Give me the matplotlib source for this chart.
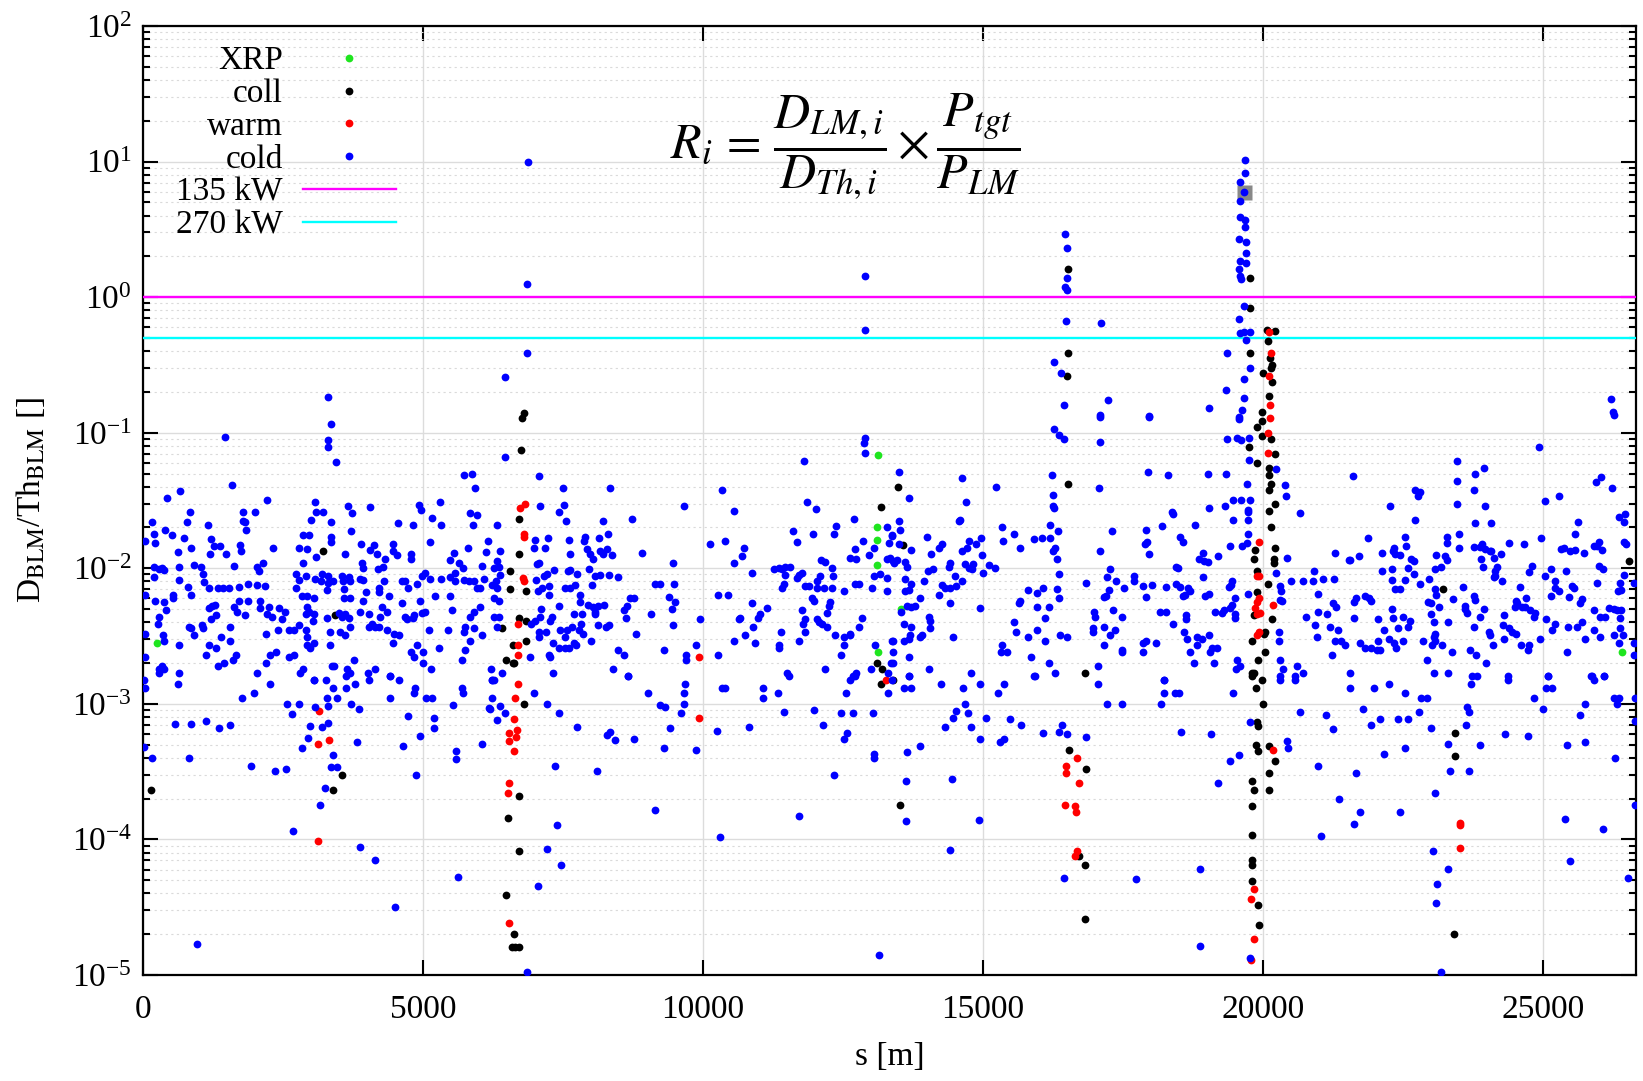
import matplotlib
matplotlib.use('Agg')
import matplotlib.pyplot as plt
from matplotlib.ticker import FixedLocator, NullFormatter, NullLocator, LogFormatterSciNotation
import numpy as np

plt.rcParams['font.family'] = ['Liberation Serif', 'DejaVu Serif']
plt.rcParams['mathtext.fontset'] = 'stix'

# ---------------- data (s [m], D_BLM/Th_BLM) ----------------
xrp = [(250, 0.0028), (13118, 0.068), (13106, 0.0201), (13106, 0.0162), (13106, 0.0106),
       (13124, 0.0024), (13535, 0.005), (26410, 0.0024)]

coll = [(6797, 0.139), (6767, 0.128), (6755, 0.075), (6719, 0.0232), (6719, 0.0128), (6838, 0.0068),
        (6719, 0.0043), (6838, 0.0041), (6838, 0.0029), (6630, 0.002),
        (3208, 0.0134), (3434, 0.0045), (6559, 0.0095), (6559, 0.0070), (6410, 0.0036), (6606, 0.0027),
        (6487, 0.0021), (6606, 0.0020),
        (13184, 0.0285), (13106, 0.002), (13195, 0.0018),
        (16517, 1.6), (19762, 1.39), (19774, 0.83), (16517, 0.39), (19774, 0.386), (16500, 0.264),
        (20071, 0.57), (19999, 0.274), (19982, 0.143),
        (20208, 0.566), (20089, 0.478), (20130, 0.354), (20160, 0.316), (20148, 0.299), (20160, 0.236),
        (20100, 0.185),
        (19744, 0.079), (19893, 0.111), (19982, 0.121), (19982, 0.095), (19893, 0.060),
        (13476, 0.040), (16512, 0.042), (13571, 0.0149), (16827, 0.0017),
        (19862, 0.0137), (19845, 0.0117), (19892, 0.0095), (19892, 0.0067), (19833, 0.0045),
        (20011, 0.0033), (19803, 0.0029), (19910, 0.0021), (19803, 0.0017), (19845, 0.0017),
        (20148, 0.090), (20208, 0.070), (20100, 0.055), (20112, 0.049), (20148, 0.042), (20112, 0.038),
        (20208, 0.030), (20100, 0.0265), (20148, 0.0203), (20208, 0.0141), (20190, 0.0117),
        (20190, 0.011), (20089, 0.0076), (20160, 0.0042), (20041, 0.0034), (20041, 0.0024),
        (23213, 0.007), (26529, 0.0114),
        (3553, 0.0003), (3392, 0.00023), (142, 0.00023), (6511, 0.000144), (6708, 0.00021),
        (6708, 8.2e-5), (6487, 3.9e-5), (6618, 2.0e-5), (6590, 1.6e-5), (6650, 1.62e-5), (6708, 1.6e-5),
        (6797, 0.001), (13184, 0.0014), (13384, 0.0015),
        (13523, 0.00018), (16529, 0.00046), (16839, 0.00033), (16720, 7.5e-5), (16827, 6.5e-5),
        (16827, 2.6e-5),
        (19803, 0.0016), (19982, 0.0015), (19880, 0.0013), (20000, 0.001), (19892, 0.00073),
        (19910, 0.00069), (19880, 0.0005), (19910, 0.00045), (20101, 0.00049), (19803, 0.00027),
        (19845, 0.00023), (20101, 0.00031), (20101, 0.00023), (19803, 0.000175), (19803, 0.000108),
        (19803, 7.0e-5), (19803, 6.5e-5), (19803, 4.9e-5), (19910, 3.3e-5), (19922, 2.35e-5),
        (20208, 0.00038), (23434, 0.00061), (23434, 0.00041), (23404, 2.0e-5)]

warm = [(20100, 0.55), (20148, 0.386), (20112, 0.26), (20130, 0.16),
        (6737, 0.028), (6815, 0.030), (6797, 0.018), (6797, 0.017), (6779, 0.0085), (6797, 0.008),
        (6696, 0.0039), (6696, 0.0027), (6696, 0.0023),
        (9934, 0.0022),
        (19934, 0.0155), (19892, 0.0087), (19922, 0.0088), (19922, 0.006), (19892, 0.0056),
        (19862, 0.0051), (19892, 0.0046), (19940, 0.0047), (19892, 0.0032), (19922, 0.0034),
        (20130, 0.128), (20089, 0.099), (20089, 0.071), (20172, 0.0054),
        (3136, 0.00088), (3119, 0.00051), (3315, 0.00054), (3119, 9.8e-5),
        (6690, 0.0014), (6636, 0.0011), (6630, 0.00077), (6529, 0.00061), (6654, 0.00057),
        (6678, 0.00064), (6529, 0.00053), (6618, 0.00045), (6529, 0.00026), (6511, 0.00022),
        (6529, 2.4e-5),
        (9922, 0.00078), (13273, 0.0015),
        (16678, 0.0004), (16482, 0.00035), (16476, 0.00031), (16708, 0.00026), (16470, 0.00018),
        (16636, 0.000177), (16654, 0.000158), (16678, 8.2e-5), (16636, 7.6e-5),
        (19833, 4.3e-5), (19791, 3.65e-5), (19833, 1.85e-5), (19791, 1.28e-5),
        (20172, 0.00046), (23523, 0.000132), (23523, 0.000128), (23523, 8.6e-5)]

cold = [
    # upper region
    (3303, 0.182), (6458, 0.256), (6868, 9.9), (6862, 1.26), (12898, 1.44), (12886, 0.575), (6862, 0.39),
    (16464, 2.9), (16500, 2.29), (16500, 1.39), (16460, 1.19), (16500, 1.12), (16490, 0.67),
    (17101, 0.65), (16262, 0.334), (16392, 0.277), (16452, 0.161), (17226, 0.175), (17095, 0.135),
    (17958, 0.133), (19029, 0.151),
    (19684, 10.2), (19672, 8.3), (19583, 7.1), (19666, 6.0), (19595, 5.1), (19595, 3.9), (19672, 3.7),
    (19672, 3.3), (19571, 2.67), (19690, 2.55), (19690, 2.1), (19583, 1.85), (19690, 1.8), (19571, 1.6),
    (19595, 1.42), (19600, 1.36), (19654, 0.86), (19565, 0.69), (19595, 0.54), (19666, 0.55),
    (19762, 0.55), (19702, 0.48), (19357, 0.386), (19774, 0.30), (19654, 0.248), (19345, 0.207),
    (19654, 0.18), (19630, 0.147), (19565, 0.13), (26219, 0.177), (26249, 0.142),
    # 0 - 6700 m
    (3357, 0.116), (3297, 0.089), (3297, 0.079), (3452, 0.061), (1470, 0.093), (1589, 0.041), (654, 0.037),
    (428, 0.033), (2214, 0.032), (845, 0.026), (785, 0.022), (160, 0.022), (190, 0.018), (398, 0.019),
    (517, 0.0175), (220, 0.0153), (41, 0.016), (726, 0.0166), (1160, 0.021), (1785, 0.026), (1827, 0.022),
    (1790, 0.0222), (1845, 0.0193), (2005, 0.026), (1214, 0.0164), (1380, 0.0146), (1261, 0.0145),
    (857, 0.0141), (625, 0.0131), (1738, 0.0149), (1750, 0.0134), (1190, 0.0127), (1488, 0.0128),
    (2321, 0.014), (2142, 0.011), (190, 0.0103), (339, 0.010), (280, 0.0098), (381, 0.0097), (648, 0.0102),
    (916, 0.0106), (1035, 0.0103), (1619, 0.0104), (2035, 0.0103), (2071, 0.0095), (190, 0.0086),
    (41, 0.0064), (648, 0.0082), (1065, 0.0091), (1083, 0.0079), (803, 0.0073), (857, 0.0064),
    (1184, 0.0071), (1333, 0.0071), (1428, 0.0071), (1529, 0.0072), (1720, 0.0073), (1875, 0.0077),
    (2035, 0.0075), (2184, 0.0074), (535, 0.0064), (535, 0.006), (220, 0.0057), (369, 0.0056),
    (404, 0.0049), (280, 0.0044), (262, 0.0039), (41, 0.0033), (357, 0.0032), (381, 0.0029),
    (648, 0.0027), (916, 0.0032), (815, 0.0037), (857, 0.0036), (1053, 0.0038), (1071, 0.0036),
    (1172, 0.0051), (1232, 0.0053), (1291, 0.0054), (1214, 0.0042), (1309, 0.0045), (1172, 0.0027),
    (1309, 0.0026), (1392, 0.0031), (1547, 0.0029), (1547, 0.0037), (1678, 0.0048), (1720, 0.0057),
    (1619, 0.0052), (1875, 0.0057), (1815, 0.0045), (2083, 0.0057), (2095, 0.0051), (2244, 0.0052),
    (2214, 0.0046), (2303, 0.0044), (2422, 0.0051), (2541, 0.0048), (2482, 0.0042), (2404, 0.0035),
    (2196, 0.0033), (2601, 0.0035), (2690, 0.0035), (2779, 0.0038), (2910, 0.0035), (2928, 0.0031),
    (2928, 0.0027), (2987, 0.0026), (3047, 0.0028), (2916, 0.0046), (2928, 0.0052), (2839, 0.0062),
    (2928, 0.0062), (3059, 0.006), (2958, 0.0048), (3047, 0.0046), (3035, 0.0041), (2738, 0.0091),
    (2779, 0.0082), (2738, 0.0071), (2910, 0.0088), (2851, 0.011), (2791, 0.0142), (2851, 0.0175),
    (2958, 0.0176), (2928, 0.0139), (3089, 0.0122), (2999, 0.0228), (3077, 0.0306), (3089, 0.0262),
    (3208, 0.0262), (3077, 0.0083), (3196, 0.009), (3303, 0.0088), (3178, 0.008), (3303, 0.0078),
    (3392, 0.008), (3285, 0.0069), (3357, 0.022), (3357, 0.0171), (3357, 0.0157), (3285, 0.0043),
    (3494, 0.0047), (3553, 0.0044), (3613, 0.0046), (3672, 0.0043), (3345, 0.0034), (3345, 0.0027),
    (3511, 0.0034), (3613, 0.0032), (3702, 0.0037), (3553, 0.0088), (3571, 0.0081), (3595, 0.007),
    (3672, 0.0086), (3702, 0.0081), (3595, 0.006), (3690, 0.006), (3601, 0.0128), (3714, 0.0187),
    (3732, 0.0254), (3654, 0.0289), (3892, 0.0152), (3910, 0.011), (3928, 0.010), (3880, 0.0084),
    (3928, 0.0082), (3987, 0.0067), (3928, 0.0057), (3880, 0.0048), (4029, 0.0046), (4029, 0.0037),
    (4089, 0.0039), (4118, 0.0149), (4059, 0.0283), (4047, 0.0137), (4178, 0.0127), (4196, 0.0098),
    (4214, 0.0071), (4208, 0.0067), (4297, 0.008), (4267, 0.0052), (4237, 0.0044), (4208, 0.0037),
    (4148, 0.0037), (4357, 0.0048), (4357, 0.0035), (4386, 0.0062), (4463, 0.0152), (4463, 0.0133),
    (4535, 0.0126), (4327, 0.0118), (4279, 0.0102), (4475, 0.0033), (4565, 0.0032), (4463, 0.0028),
    (4547, 0.0214), (4630, 0.008), (4684, 0.008), (4624, 0.0055), (4684, 0.0044), (4714, 0.0042),
    (4821, 0.0043), (4833, 0.0045), (4726, 0.0071), (4785, 0.0128), (4785, 0.0118), (4821, 0.0209),
    (4922, 0.0293), (4964, 0.0268), (4892, 0.0077), (4952, 0.0057), (4892, 0.0027), (4785, 0.0024),
    (4833, 0.0022), (4999, 0.0024), (4999, 0.002), (4981, 0.0047), (5041, 0.0048), (4981, 0.0088),
    (5041, 0.0093), (5130, 0.0084), (5130, 0.0155), (5160, 0.0236), (5297, 0.031), (5327, 0.021),
    (5321, 0.0083), (5219, 0.0062), (5101, 0.0035), (5148, 0.0018), (5279, 0.0026), (5446, 0.0035),
    (5487, 0.0062), (5517, 0.0049), (5487, 0.0086), (5576, 0.0093), (5636, 0.011), (5714, 0.0101),
    (5547, 0.0129), (5476, 0.0115), (5797, 0.014), (5725, 0.049), (5874, 0.05), (5934, 0.039),
    (5833, 0.0254), (5963, 0.0247), (5886, 0.021), (6154, 0.016), (6321, 0.021), (6458, 0.066),
    (6124, 0.0131), (6053, 0.0104), (6261, 0.010), (6321, 0.0113), (6351, 0.0103), (6380, 0.0133),
    (5576, 0.008), (5737, 0.0082), (5815, 0.008), (5904, 0.008), (6083, 0.0083), (5963, 0.0071),
    (6023, 0.0072), (6232, 0.0075), (6321, 0.0071), (6380, 0.0089), (6309, 0.008), (6261, 0.006),
    (6351, 0.0057), (5904, 0.0048), (5844, 0.0044), (6011, 0.0052), (5755, 0.0037), (5725, 0.0034),
    (5904, 0.0036), (5844, 0.0029), (6053, 0.0032), (5743, 0.0025), (5696, 0.0021), (6261, 0.0044),
    (6351, 0.0044), (6321, 0.0037), (6220, 0.0018), (6410, 0.0017),
    (41, 0.0022), (280, 0.0018), (340, 0.0019), (381, 0.0018), (280, 0.0017), (648, 0.0017),
    (1124, 0.0023), (1339, 0.0019), (1440, 0.002), (1607, 0.0021), (1660, 0.0023), (2035, 0.0017),
    (2196, 0.002), (2273, 0.0023), (2374, 0.0024), (2613, 0.0022), (2690, 0.0023), (2797, 0.0017),
    (2860, 0.0018), (3047, 0.0015), (3375, 0.0019), (3410, 0.0019), (3642, 0.0018), (3690, 0.0017),
    (3773, 0.0021), (4017, 0.0017), (4148, 0.0018), (4404, 0.0016), (6232, 0.0015),
    # 6650 - 13400 m
    (7077, 0.048), (7493, 0.039), (8344, 0.039), (10338, 0.038), (7094, 0.029), (7511, 0.0293),
    (7434, 0.0262), (7553, 0.0222), (8207, 0.0222), (8731, 0.023), (9654, 0.029), (10559, 0.0265),
    (6993, 0.0163), (6990, 0.0142), (7225, 0.0168), (7172, 0.0141), (7612, 0.0161), (7868, 0.0158),
    (7886, 0.017), (8148, 0.0168), (8297, 0.018), (7928, 0.0139), (7987, 0.0128), (8029, 0.0117),
    (8166, 0.0133), (8207, 0.0128), (8285, 0.0138), (8374, 0.0125), (7630, 0.0128), (8910, 0.013),
    (9457, 0.011), (10130, 0.0151), (10398, 0.0158), (10731, 0.0142), (10695, 0.0124), (10547, 0.011),
    (7065, 0.011), (7035, 0.0108), (7333, 0.0097), (7213, 0.009), (7154, 0.0088), (7588, 0.0095),
    (7630, 0.0097), (7749, 0.0091), (7957, 0.0099), (8064, 0.0087), (8166, 0.0089), (8315, 0.0089),
    (8481, 0.0086), (8017, 0.0075), (7719, 0.0075), (7630, 0.0071), (7529, 0.0071), (7243, 0.0074),
    (7124, 0.0072), (7053, 0.0068), (7017, 0.0082), (7255, 0.0064), (9148, 0.0076), (9237, 0.0077),
    (9475, 0.0077), (9398, 0.0061), (9505, 0.0056), (9446, 0.005), (9457, 0.0038), (9951, 0.0042),
    (10261, 0.0064), (10440, 0.0063), (10874, 0.0093), (10874, 0.0055), (11142, 0.0051),
    (11023, 0.0046), (10980, 0.0043), (10892, 0.0037), (10666, 0.0043), (10648, 0.0042),
    (10755, 0.0032), (10547, 0.0029), (10922, 0.0028), (7809, 0.0064), (7809, 0.0056), (7946, 0.0054),
    (8029, 0.0052), (8124, 0.0053), (8225, 0.0054), (8077, 0.0046), (8064, 0.0048), (7838, 0.0046),
    (7690, 0.0046), (7827, 0.0039), (7850, 0.0033), (8124, 0.0038), (8267, 0.0037), (8326, 0.0038),
    (7422, 0.0053), (7303, 0.0044), (7273, 0.0041), (7112, 0.005), (7094, 0.0044), (7005, 0.0041),
    (6934, 0.0039), (7077, 0.0034), (7196, 0.0034), (7452, 0.0035), (7529, 0.0031), (7570, 0.0035),
    (7660, 0.0037), (7779, 0.0035), (7690, 0.0028), (7731, 0.0027), (7600, 0.0026), (7541, 0.0026),
    (7422, 0.0026), (7315, 0.0028), (7065, 0.0031), (8005, 0.0029), (8582, 0.0049), (8630, 0.0043),
    (8702, 0.006), (8761, 0.006), (8642, 0.0053), (8809, 0.0033), (9077, 0.0046), (7243, 0.0023),
    (7273, 0.0022), (6916, 0.0022), (7315, 0.0017), (8386, 0.0018), (8475, 0.0025), (8594, 0.0023),
    (8660, 0.0016), (9297, 0.0025), (9696, 0.0023), (9696, 0.0021), (9874, 0.0027), (10267, 0.0023),
    (11350, 0.0027), (11350, 0.0026), (11499, 0.0017), (11529, 0.0016), (11398, 0.0034),
    (11261, 0.0098), (11350, 0.0101), (11410, 0.0099), (11470, 0.0102), (11559, 0.0103),
    (11439, 0.0077), (11410, 0.0071), (11457, 0.0089), (11678, 0.0085), (11708, 0.0089),
    (11767, 0.0093), (11826, 0.0074), (11886, 0.0074), (11600, 0.0187), (11678, 0.0155),
    (11797, 0.062), (11856, 0.031), (12017, 0.0273), (11963, 0.018), (12332, 0.018), (12374, 0.0204),
    (12701, 0.023), (12856, 0.016), (12886, 0.092), (12868, 0.084), (12898, 0.071), (12630, 0.012),
    (12731, 0.0118), (12719, 0.0138), (12969, 0.0126), (13047, 0.014), (13285, 0.02), (13374, 0.0176),
    (13315, 0.0154), (13285, 0.0118), (13386, 0.0113), (13047, 0.0087), (13166, 0.0091),
    (13285, 0.0085), (13017, 0.0071), (13285, 0.0068), (12112, 0.0115), (12183, 0.0111),
    (12302, 0.010), (12314, 0.0088), (12094, 0.0088), (12035, 0.008), (12154, 0.0071), (12035, 0.0071),
    (12302, 0.0071), (12511, 0.0068), (12707, 0.0077), (12779, 0.0077), (11945, 0.006), (11975, 0.0057),
    (11767, 0.0049), (11826, 0.0042), (11779, 0.0039), (12035, 0.0042), (12065, 0.004), (12124, 0.0039),
    (12213, 0.0037), (12243, 0.0053), (12273, 0.0056), (12213, 0.0047), (11826, 0.0034),
    (11708, 0.0029), (12350, 0.0032), (12511, 0.0031), (12618, 0.0032), (12630, 0.0033),
    (12511, 0.0027), (12469, 0.0023), (12183, 0.0018), (12838, 0.0043), (12779, 0.0037),
    (13374, 0.0029), (13065, 0.0027), (13000, 0.0018), (12671, 0.0016), (12731, 0.0017),
    (13303, 0.0017), (13362, 0.002),
    # 13350 - 20100 m
    (17095, 0.131), (17958, 0.131), (19565, 0.127), (16273, 0.106), (16363, 0.096), (16452, 0.09),
    (17095, 0.085), (19357, 0.09), (19535, 0.092), (19613, 0.088), (19744, 0.092), (19744, 0.063),
    (13506, 0.051), (13684, 0.033), (14625, 0.046), (14702, 0.031), (15232, 0.04), (16232, 0.049),
    (17077, 0.039), (17940, 0.051), (18297, 0.049), (19012, 0.05), (19339, 0.05), (16250, 0.0345),
    (16250, 0.029), (16268, 0.028), (19714, 0.042), (19607, 0.032), (19762, 0.032), (19726, 0.027),
    (19726, 0.026), (18375, 0.026), (18393, 0.025), (19029, 0.028), (19315, 0.029), (19458, 0.032),
    (19464, 0.0228), (19726, 0.0228), (19726, 0.018), (19625, 0.0147), (19714, 0.0153),
    (19404, 0.0146), (19190, 0.0124), (18928, 0.013), (18851, 0.0118), (18940, 0.0113),
    (19011, 0.0112), (18791, 0.021), (18511, 0.017), (18571, 0.0155), (18196, 0.0206), (17916, 0.019),
    (17928, 0.0155), (17898, 0.0151), (17958, 0.0128), (17303, 0.0187), (17083, 0.0134),
    (16339, 0.0187), (16190, 0.021), (16202, 0.0166), (16291, 0.0142), (16244, 0.0133),
    (16321, 0.0118), (16363, 0.009), (16321, 0.007), (16363, 0.006), (16053, 0.0168), (15916, 0.0164),
    (15666, 0.0141), (15547, 0.018), (15357, 0.0158), (15339, 0.0201), (15220, 0.01), (15113, 0.0106),
    (14982, 0.0126), (14964, 0.0168), (14875, 0.015), (14999, 0.0093), (14821, 0.0107),
    (14803, 0.0098), (14744, 0.0101), (14744, 0.016), (14714, 0.0142), (14625, 0.0134),
    (14565, 0.0222), (14595, 0.0227), (14684, 0.0107), (14625, 0.008), (14505, 0.0088),
    (14416, 0.011), (14386, 0.0103), (14268, 0.015), (14208, 0.0142), (14071, 0.0128), (14101, 0.0098),
    (14011, 0.0095), (13940, 0.008), (14000, 0.017), (13714, 0.0136), (13506, 0.0222), (13523, 0.0193),
    (13494, 0.0152), (13375, 0.0172), (13345, 0.012), (13404, 0.011), (13464, 0.0115), (13613, 0.0112),
    (13643, 0.0103), (13613, 0.0084), (13714, 0.0077), (13672, 0.0069), (13613, 0.0068),
    (13869, 0.006), (13791, 0.0053), (13714, 0.0052), (13643, 0.0053), (13535, 0.0048),
    (14208, 0.0064), (14268, 0.0075), (14327, 0.0072), (14416, 0.0071), (14517, 0.0074),
    (14416, 0.0055), (14030, 0.0044), (14047, 0.0041), (14059, 0.0036), (13595, 0.0039),
    (13714, 0.0037), (13702, 0.0032), (13672, 0.003), (13583, 0.0029), (13910, 0.0032),
    (13869, 0.0031), (13393, 0.0029), (13393, 0.0024), (13393, 0.002), (13672, 0.0022),
    (13672, 0.0016), (14030, 0.0018), (14464, 0.0031), (14785, 0.0017), (14940, 0.0051),
    (15339, 0.0027), (15428, 0.0024), (15321, 0.0024), (15547, 0.004), (15595, 0.0034),
    (15654, 0.0057), (15636, 0.0055), (15797, 0.0069), (15964, 0.0066), (16071, 0.0072),
    (15964, 0.0052), (15964, 0.0035), (16101, 0.0043), (16184, 0.0052), (15797, 0.0031),
    (16113, 0.0029), (15857, 0.0022), (16184, 0.002), (16279, 0.0017), (15922, 0.0016),
    (16368, 0.0032), (16500, 0.0031), (17053, 0.0019), (16845, 0.0078), (16976, 0.0048),
    (17005, 0.0044), (16964, 0.0036), (16964, 0.0034), (17154, 0.0037), (17321, 0.0049),
    (17482, 0.0044), (17261, 0.0032), (17363, 0.0035), (17154, 0.0027), (17482, 0.0025),
    (17482, 0.0024), (17857, 0.0028), (17916, 0.0029), (17857, 0.0024), (18089, 0.0028),
    (18226, 0.0015), (17214, 0.0086), (17261, 0.0098), (17380, 0.008), (17255, 0.0069),
    (17154, 0.0061), (17202, 0.0062), (17511, 0.0072), (17690, 0.0087), (17702, 0.008),
    (17857, 0.0074), (17916, 0.0061), (18017, 0.0075), (18166, 0.0048), (18273, 0.0048),
    (18273, 0.0073), (18392, 0.0039), (18452, 0.0076), (18476, 0.010), (18452, 0.0103),
    (18511, 0.0073), (18595, 0.0034), (18630, 0.0045), (18630, 0.0042), (18642, 0.003),
    (18702, 0.0068), (18660, 0.0071), (18571, 0.0062), (18613, 0.0063), (18702, 0.0024),
    (18773, 0.002), (18821, 0.0031), (18910, 0.003), (19029, 0.0032), (18821, 0.0027),
    (19089, 0.0026), (19059, 0.0024), (19178, 0.0026), (19131, 0.002), (19148, 0.0048),
    (19267, 0.0047), (19309, 0.0049), (19416, 0.0051), (19446, 0.0054), (19505, 0.0046),
    (19505, 0.0043), (19386, 0.0073), (19434, 0.0075), (19446, 0.008), (19505, 0.006), (19726, 0.0065),
    (18970, 0.0062), (19029, 0.0065), (18922, 0.0086), (19535, 0.0021), (19583, 0.0019), (19523, 0.0018),
    # 20040 - 26660 m
    (26261, 0.135), (24934, 0.078), (23463, 0.062), (23791, 0.05), (23952, 0.055), (21600, 0.048),
    (20232, 0.054), (20398, 0.041), (20410, 0.034), (20666, 0.0254), (23463, 0.044), (23761, 0.038),
    (22719, 0.0376), (22809, 0.0363), (22767, 0.034), (22273, 0.0288), (23463, 0.0296), (23969, 0.029),
    (22707, 0.0228), (23779, 0.0214), (24077, 0.0214), (25041, 0.0313), (25291, 0.0342),
    (25952, 0.0436), (26041, 0.047), (26231, 0.0389), (26350, 0.024), (26469, 0.025), (26439, 0.022),
    (25624, 0.022), (25576, 0.018), (25993, 0.0155), (25904, 0.0145), (25963, 0.0145), (26053, 0.0136),
    (26439, 0.0157), (26481, 0.015), (25993, 0.0104), (26065, 0.0099), (25963, 0.0078), (26380, 0.0078),
    (26439, 0.0089), (26338, 0.0068), (26398, 0.0069), (26618, 0.0078), (24969, 0.0166),
    (25326, 0.0138), (25368, 0.0141), (25488, 0.0134), (25737, 0.013), (25576, 0.0136), (25410, 0.0095),
    (25148, 0.0099), (25041, 0.0088), (25207, 0.008), (25219, 0.0071), (25279, 0.0068), (25517, 0.0074),
    (25547, 0.0071), (25148, 0.0062), (25457, 0.0061), (25695, 0.0059), (25665, 0.0055),
    (25904, 0.0049), (26171, 0.0051), (26261, 0.005), (26320, 0.0049), (26398, 0.0049),
    (26023, 0.0044), (26112, 0.0044), (26380, 0.0043), (26618, 0.0028), (26618, 0.0023),
    (26350, 0.0028), (26261, 0.0032), (26422, 0.0032), (26380, 0.0036), (25904, 0.0035),
    (26023, 0.0031), (25219, 0.0039), (25160, 0.0035), (25445, 0.0037), (25606, 0.0037),
    (25695, 0.004), (25743, 0.003), (25427, 0.0024), (24951, 0.003), (25058, 0.0042), (24803, 0.0104),
    (24744, 0.0094), (24654, 0.015), (24398, 0.0154), (24255, 0.0127), (24178, 0.0102),
    (24148, 0.0095), (24136, 0.0088), (24118, 0.0086), (24267, 0.008), (24130, 0.012), (24077, 0.0133),
    (23910, 0.0152), (23880, 0.0143), (23969, 0.0139), (24059, 0.0133), (23898, 0.0118),
    (23922, 0.0103), (23761, 0.0143), (23493, 0.018), (23493, 0.0142), (23285, 0.017), (23285, 0.0153),
    (23255, 0.0123), (23285, 0.0115), (23088, 0.0125), (23184, 0.0103), (23077, 0.0098),
    (22957, 0.0083), (23065, 0.007), (23088, 0.0063), (23570, 0.0073), (23386, 0.0059),
    (22945, 0.0056), (23005, 0.0055), (23136, 0.0052), (23000, 0.0046), (23047, 0.004), (23065, 0.0033),
    (23047, 0.0031), (23065, 0.0029), (23018, 0.0027), (23196, 0.0027), (23297, 0.004), (23374, 0.0024),
    (22850, 0.0029), (22928, 0.0021), (23047, 0.0017), (23297, 0.0017), (23612, 0.0053),
    (23642, 0.0047), (23612, 0.005), (23761, 0.0062), (23791, 0.0058), (23880, 0.0044), (23939, 0.005),
    (23761, 0.0037), (24029, 0.0034), (24059, 0.0032), (24100, 0.0027), (23701, 0.0025),
    (23803, 0.0023), (23981, 0.002), (23731, 0.0016), (23820, 0.0016), (24279, 0.0038),
    (24297, 0.0045), (24386, 0.0036), (24446, 0.0034), (24517, 0.0033), (24309, 0.003), (24523, 0.0057),
    (24535, 0.0055), (24624, 0.0052), (24505, 0.0052), (24696, 0.006), (24684, 0.0052), (24773, 0.0049),
    (24833, 0.0044), (24862, 0.0047), (24582, 0.0073), (24606, 0.0027), (24743, 0.0027),
    (24731, 0.0025), (24368, 0.0016), (25088, 0.0016), (25862, 0.0016), (26094, 0.0016),
    (22303, 0.0098), (22321, 0.0133), (22350, 0.0128), (22452, 0.0125), (22332, 0.014), (22559, 0.0145),
    (22541, 0.017), (22642, 0.0118), (22690, 0.0113), (22589, 0.0100), (22689, 0.009), (22797, 0.0077),
    (22529, 0.0082), (22303, 0.0082), (22362, 0.007), (22440, 0.007), (22124, 0.013), (22124, 0.0095),
    (21874, 0.0168), (21707, 0.0124), (21559, 0.0115), (21529, 0.0116), (21291, 0.013),
    (20904, 0.0096), (21064, 0.0083), (21261, 0.0083), (20886, 0.008), (20708, 0.008), (20505, 0.0081),
    (20422, 0.012), (20232, 0.0093), (20309, 0.0074), (20327, 0.0068), (20309, 0.0058),
    (20339, 0.0057), (20975, 0.0065), (21249, 0.0055), (21303, 0.0052), (20981, 0.0048),
    (21142, 0.0046), (20767, 0.0044), (20922, 0.0038), (21190, 0.0037), (20963, 0.0031),
    (21338, 0.0035), (21291, 0.0029), (21398, 0.0029), (21458, 0.0027), (21231, 0.0023),
    (21618, 0.0043), (21618, 0.0056), (21660, 0.006), (21827, 0.0062), (21898, 0.006), (21934, 0.0057),
    (22047, 0.0042), (22154, 0.0035), (22243, 0.003), (22333, 0.0028), (22374, 0.0026), (22047, 0.0029),
    (22303, 0.005), (22315, 0.0043), (22410, 0.0036), (22499, 0.0044), (22583, 0.0037), (22630, 0.0041),
    (22493, 0.0029), (21725, 0.0028), (21827, 0.0026), (21934, 0.0026), (22035, 0.0025),
    (22095, 0.0025), (20279, 0.0034), (20291, 0.0029), (20309, 0.0021), (20351, 0.0018),
    (20309, 0.0016), (20606, 0.0019), (20577, 0.0016), (20708, 0.0017), (21559, 0.0017),
    # lower band 0 - 6500 m
    (24, 0.0015), (40, 0.0013), (619, 0.0014), (1767, 0.0011), (1988, 0.0012), (2261, 0.0014),
    (2571, 0.001), (2779, 0.001), (2660, 0.00084), (3047, 0.0015), (3273, 0.0015), (3630, 0.0016),
    (3630, 0.0013), (3791, 0.0014), (3392, 0.0013), (3285, 0.0011), (3297, 0.00096), (3464, 0.0011),
    (3714, 0.001), (3851, 0.00092), (3065, 0.00095), (2976, 0.00069), (3297, 0.00072), (3196, 0.00067),
    (2946, 0.00056), (2839, 0.00047), (3386, 0.00042), (3357, 0.00034), (3464, 0.00034),
    (3255, 0.00024), (3154, 0.00018), (2672, 0.000116), (3868, 8.8e-5), (4136, 7.1e-5), (4505, 3.2e-5),
    (964, 1.7e-5), (5619, 5.3e-5), (577, 0.00071), (857, 0.00071), (1131, 0.00075), (1363, 0.00066),
    (1547, 0.0007), (12, 0.00048), (160, 0.0004), (815, 0.0004), (1928, 0.00035), (2351, 0.00032),
    (2547, 0.00033), (3821, 0.00052), (4029, 0.0015), (4404, 0.0016), (4565, 0.0015), (4404, 0.0011),
    (4833, 0.0012), (4862, 0.0013), (5052, 0.0011), (5160, 0.0011), (4726, 0.00081), (5202, 0.00078),
    (5202, 0.00066), (4940, 0.00058), (4636, 0.00049), (4880, 0.0003), (5696, 0.0013), (5714, 0.0012),
    (5529, 0.00098), (5595, 0.00045), (5595, 0.00039), (6053, 0.00051), (6232, 0.0015), (6262, 0.0015),
    (6232, 0.0011), (6172, 0.00094), (6190, 0.00092), (6380, 0.00097), (6469, 0.00086), (6321, 0.00076),
    # lower band 6800 - 13400 m
    (6975, 0.0012), (7213, 0.001), (7422, 0.00085), (7749, 0.00067), (8285, 0.00059), (8333, 0.00062),
    (8434, 0.00054), (8761, 0.00055), (7362, 0.00035), (8106, 0.00032), (8660, 0.0016), (9017, 0.0012),
    (9225, 0.00098), (9327, 0.00095), (9654, 0.0012), (9654, 0.001), (9684, 0.0014), (9606, 0.00085),
    (9416, 0.00066), (9297, 0.00047), (9874, 0.00046), (10249, 0.00063), (10815, 0.00068),
    (10338, 0.0013), (10386, 0.0013), (11070, 0.0013), (11070, 0.0011), (11338, 0.0012),
    (11451, 0.00087), (11987, 0.0009), (12142, 0.0007), (12469, 0.00085), (12677, 0.00085),
    (12570, 0.00061), (12517, 0.00055), (12630, 0.0015), (12719, 0.0016), (12558, 0.0012),
    (13035, 0.00085), (13053, 0.00043), (13059, 0.0004), (12344, 0.0003), (13303, 0.0012),
    (9136, 0.000165), (7392, 0.000128), (11719, 0.000148), (10308, 0.000105), (7213, 8.5e-5),
    (7469, 6.5e-5), (7047, 4.5e-5), (13136, 1.41e-5), (6856, 1.05e-5),
    # lower band 13350 - 20000 m
    (13375, 0.0015), (13583, 0.0013), (13714, 0.0013), (13684, 0.0016), (14250, 0.0014), (14643, 0.0013),
    (14952, 0.0014), (15268, 0.0012), (15381, 0.0014), (15916, 0.0016), (17047, 0.0014), (17214, 0.001),
    (17482, 0.001), (18226, 0.0015), (18226, 0.0012), (18434, 0.0012), (18494, 0.0012), (18178, 0.001),
    (19458, 0.0012), (14684, 0.001), (14517, 0.00089), (14464, 0.00078), (14732, 0.00086),
    (15053, 0.00078), (15488, 0.00077), (15678, 0.0007), (14327, 0.00068), (14785, 0.00068),
    (14952, 0.00055), (15297, 0.00052), (15381, 0.00055), (16071, 0.00061), (16410, 0.0007),
    (16351, 0.00062), (16500, 0.0006), (16839, 0.00057), (18541, 0.00062), (19077, 0.0006),
    (19773, 0.00074), (13881, 0.00049), (13643, 0.00044), (13631, 0.00027), (14446, 0.00028),
    (13631, 0.000136), (14922, 0.00014), (14416, 8.4e-5), (19404, 0.00038), (19565, 0.00042),
    (19190, 0.00026), (18869, 6.1e-5), (17738, 5.1e-5), (16452, 5.2e-5), (18869, 1.65e-5),
    (19773, 1.33e-5),
    # lower band 20000 - 26660 m
    (20309, 0.0015), (20577, 0.0015), (21559, 0.0013), (21987, 0.0013), (22255, 0.0014), (22529, 0.0012),
    (22826, 0.0011), (22928, 0.0011), (23713, 0.0014), (24368, 0.0015), (25088, 0.0016), (25058, 0.0013),
    (25160, 0.0013), (25874, 0.0016), (25915, 0.0015), (26094, 0.0016), (26273, 0.0011), (26362, 0.0011),
    (26320, 0.001), (26636, 0.0011), (24832, 0.0011), (24999, 0.00091), (23642, 0.00095),
    (23684, 0.00087), (23630, 0.0007), (22779, 0.00087), (22999, 0.00066), (20654, 0.00087),
    (21130, 0.00083), (21243, 0.00065), (21785, 0.00092), (21934, 0.0007), (22094, 0.00077),
    (22410, 0.00077), (22583, 0.00077), (24326, 0.0006), (24731, 0.00058), (25665, 0.00083),
    (25755, 0.001), (25427, 0.0005), (25755, 0.00052), (26291, 0.0004), (26636, 0.00075),
    (23297, 0.00051), (23880, 0.0005), (23344, 0.00032), (23684, 0.00032), (20428, 0.00053),
    (20440, 0.00047), (20981, 0.00035), (21660, 0.00031), (22154, 0.00043), (22529, 0.00047),
    (21350, 0.0002), (21725, 0.000158), (21618, 0.000129), (21041, 0.000106), (22439, 0.00016),
    (23077, 0.00022), (25386, 0.000142), (26071, 0.00012), (26636, 0.00018), (25487, 6.9e-5),
    (26517, 5.2e-5), (23029, 8.2e-5), (23297, 6.1e-5), (23106, 4.7e-5), (23088, 3.4e-5), (23184, 1.06e-5),
]

hotspot = [(19666, 6.0)]

series_names = ['XRP', 'coll', 'warm', 'cold']
series_colors = ['#1fe51f', '#000000', '#ff0000', '#0000ff']
power_labels = ['135 kW', '270 kW']
power_levels = [1.0, 0.5]
power_colors = ['#ff00ff', '#00ffff']
x_ticks = [0, 5000, 10000, 15000, 20000, 25000]
y_decades = [-5, -4, -3, -2, -1, 0, 1, 2]
s_max = 26659

# ---------------- figure ----------------
W, H = 1643, 1081
fig = plt.figure(figsize=(W / 100, H / 100), dpi=100)
ax = fig.add_axes([143 / W, 1 - 975 / H, (1636 - 143) / W, (975 - 26) / H])

handles = []
for i, (name, pts, col) in enumerate(zip(series_names, [xrp, coll, warm, cold], series_colors)):
    s, y = map(np.array, zip(*pts))
    h, = ax.plot(s, y, linestyle='none', marker='o', ms=5.6, mfc=col, mec='none',
                 zorder=4 + i, label=name)
    handles.append(h)

hs, hy = map(np.array, zip(*hotspot))
ax.plot(hs, hy, linestyle='none', marker='s', ms=10.8, mfc='#888888', mec='none', zorder=3.5)

for lvl, lab, col in zip(power_levels, power_labels, power_colors):
    h = ax.axhline(lvl, color=col, lw=1.7, zorder=3, label=lab)
    handles.append(h)

major_y = [10.0 ** e for e in y_decades]
minor_y = [m * 10.0 ** e for e in y_decades[:-1] for m in range(2, 10)]

ax.set_yscale('log')
ax.set_ylim(major_y[0], major_y[-1])
ax.set_xlim(0, s_max)
ax.set_xticks(x_ticks)
ax.set_xticklabels([str(t) for t in x_ticks])
ax.xaxis.set_minor_locator(NullLocator())
ax.yaxis.set_major_locator(FixedLocator(major_y))
ax.yaxis.set_major_formatter(LogFormatterSciNotation())
ax.yaxis.set_minor_locator(FixedLocator(minor_y))
ax.yaxis.set_minor_formatter(NullFormatter())

ax.tick_params(which='both', direction='in', top=True, right=True, labelsize=24, width=1.5)
ax.tick_params(which='major', length=11)
ax.tick_params(which='minor', length=5)
ax.tick_params(axis='x', pad=14)
ax.tick_params(axis='y', pad=8)
for sp in ax.spines.values():
    sp.set_linewidth(1.6)

ax.set_axisbelow(True)
ax.grid(which='major', color='#dcdcdc', lw=1.0, ls='-')
ax.grid(which='minor', axis='y', color='#dadada', lw=0.8, ls=(0, (2, 3)))

ax.set_xlabel('s [m]', fontsize=24, labelpad=12)
ax.set_ylabel(r'D$_{\mathrm{BLM}}$/Th$_{\mathrm{BLM}}$ []', fontsize=24, labelpad=18)

ax.text(0.470, 0.8725,
        r'$R_i\,=\,\dfrac{D_{LM,i}}{D_{Th,i}}\times\dfrac{P_{tgt}}{P_{LM}}$',
        transform=ax.transAxes, ha='center', va='center', fontsize=36)

leg = ax.legend(handles=handles, loc='upper left', bbox_to_anchor=(0.022, 0.979),
                frameon=False, markerfirst=False, fontsize=24, handlelength=2.8,
                handletextpad=0.6, labelspacing=0.07, borderpad=0, borderaxespad=0,
                numpoints=1)
leg.set_zorder(10)

fig.savefig('out.png', dpi=100, facecolor='white')
